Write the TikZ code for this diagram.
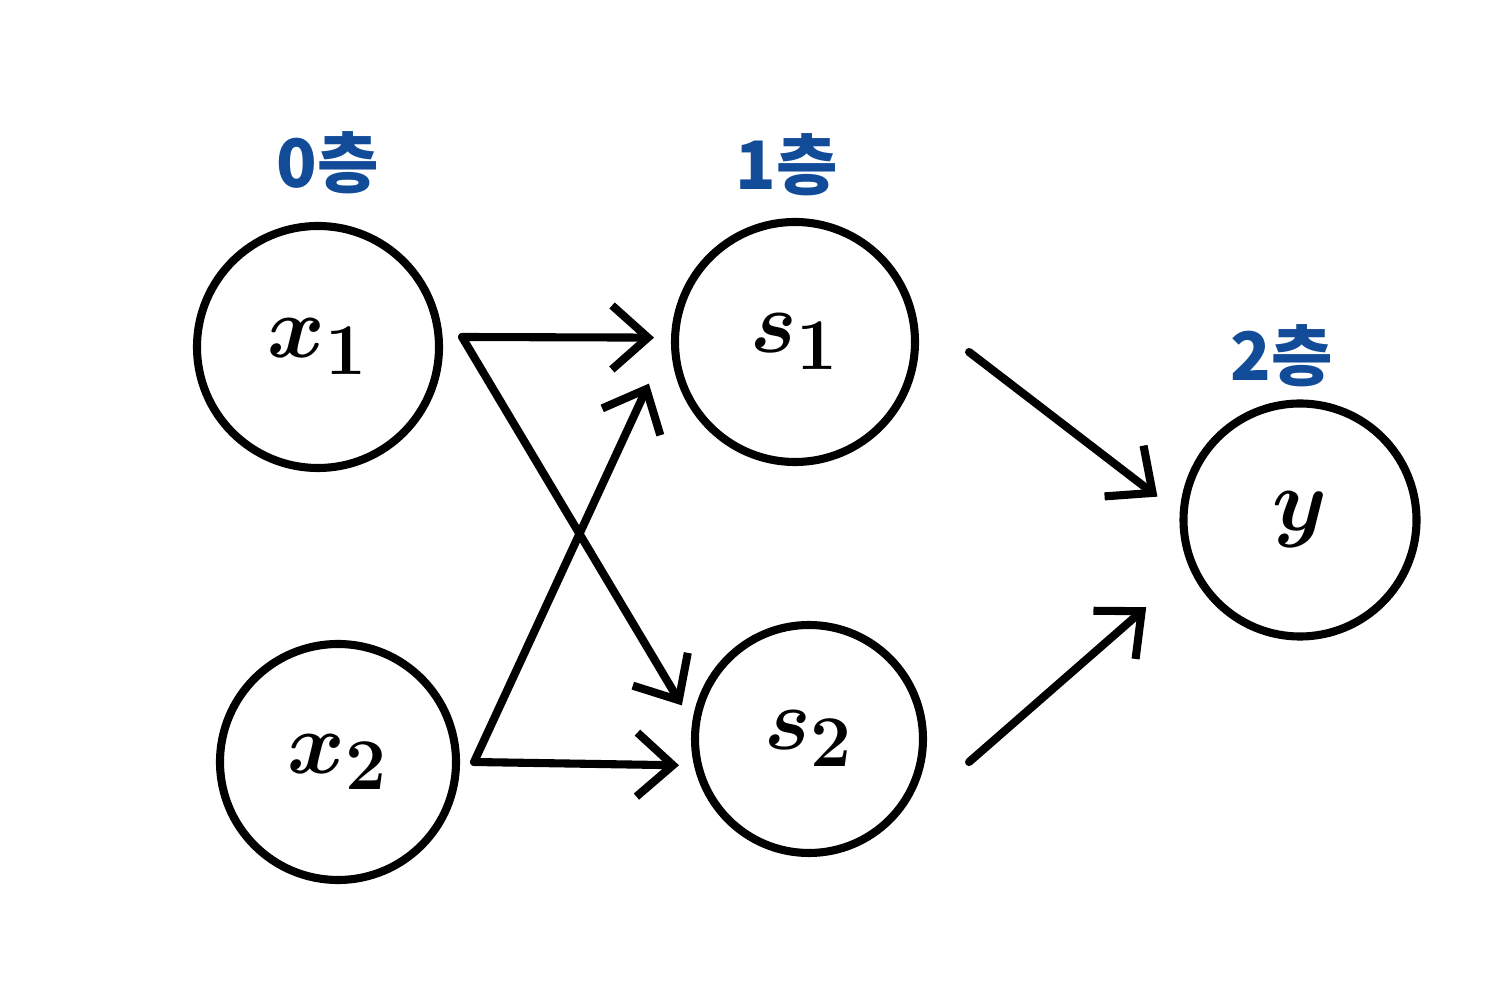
\documentclass[tikz,border=0pt]{standalone}
\usepackage{amsmath}
\usepackage{bm}
\usepackage{fontspec}
\usepackage{tikz}
\usetikzlibrary{arrows.meta,positioning}
\newfontfamily\krfont{Noto Sans CJK KR}
\definecolor{layerblue}{RGB}{18,76,152}

\tikzset{
  neuron/.style={draw, circle, line width=2.3pt, inner sep=0pt, font=\fontsize{28}{32}\selectfont},
  layerlabel/.style={text=layerblue, font=\krfont\bfseries\fontsize{19}{22}\selectfont},
  arr/.style={line width=2.3pt, line cap=round, line join=round, -{Straight Barb[length=0.36cm, width=0.64cm]}}
}

\begin{document}
\begin{tikzpicture}
    \useasboundingbox (0,0) rectangle (14.9,9.99);

    % Neurons
    \node[neuron, minimum size=2.42cm] (x1) at (3.18,6.52) {$\bm{x_1}$};
    \node[neuron, minimum size=2.36cm] (x2) at (3.38,2.37) {$\bm{x_2}$};
    \node[neuron, minimum size=2.40cm] (s1) at (7.95,6.57) {$\bm{s_1}$};
    \node[neuron, minimum size=2.28cm] (s2) at (8.09,2.60) {$\bm{s_2}$};
    \node[neuron, minimum size=2.33cm] (y) at (13.00,4.79) {$\bm{y}$};

    % Layer labels
    \node[layerlabel, above=0.16cm of x1, xshift=0.1cm] (l0) {0층};
    \node[layerlabel, above=0.1cm of s1, xshift=-0.08cm] (l1) {1층};
    \node[layerlabel, above=0.0cm of y, xshift=-0.18cm] (l2) {2층};

    % Start points of the connectors
    \coordinate (x1o) at ([shift={(0.19,0.10)}]x1.east);
    \coordinate (x2o) at ([shift={(0.14,0)}]x2.east);
    \coordinate (s1o) at ([shift={(0.50,-0.10)}]s1.east);
    \coordinate (s2o) at ([shift={(0.42,-0.23)}]s2.east);

    % Input layer to hidden layer
    \draw[arr, shorten >=0.17cm] (x1o) -- (s1.178);
    \draw[arr, shorten >=0.2cm] (x1o) -- (s2.172);
    \draw[arr, shorten >=0.53cm] (x2o) -- (s1.177);
    \draw[arr, shorten >=0.15cm] (x2o) -- (s2.193);

    % Hidden layer to output
    \draw[arr, shorten >=0.28cm] (s1o) -- (y.177);
    \draw[arr, shorten >=0.58cm] (s2o) -- (y.204);
\end{tikzpicture}
\end{document}
